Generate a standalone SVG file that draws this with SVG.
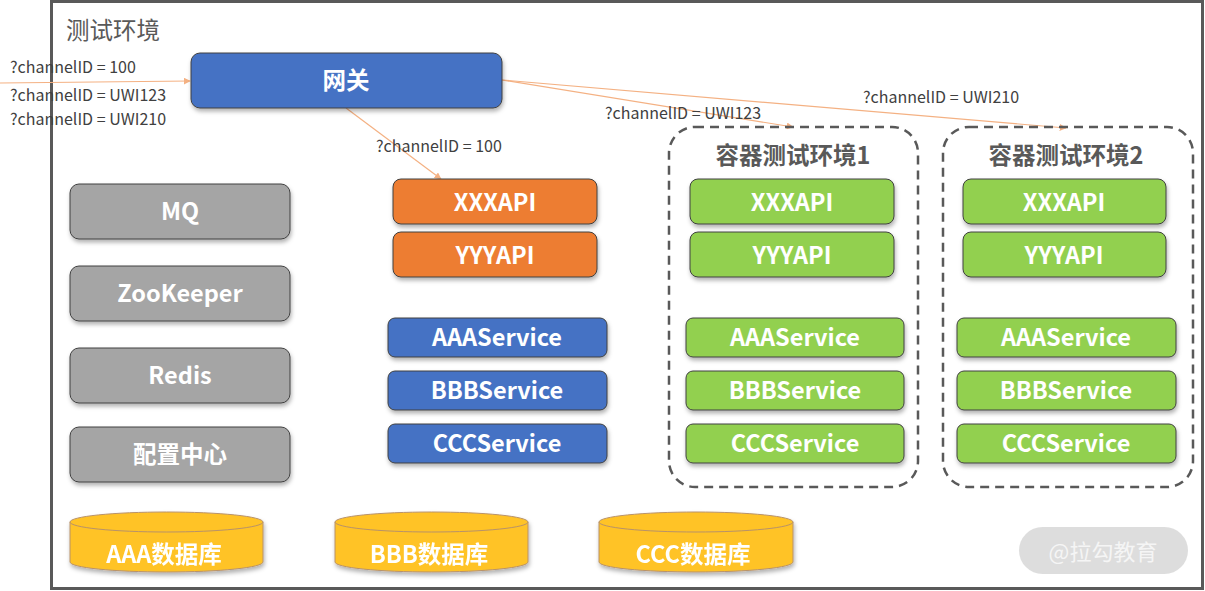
<svg xmlns="http://www.w3.org/2000/svg" width="1205" height="591" viewBox="0 0 1205 591">
<defs>
<filter id="sh" x="-10%" y="-20%" width="120%" height="150%">
<feDropShadow dx="1" dy="3" stdDeviation="2" flood-color="#000" flood-opacity="0.3"/>
</filter>
<marker id="ah" viewBox="0 0 10 10" refX="9" refY="5" markerWidth="7" markerHeight="7" orient="auto" markerUnits="userSpaceOnUse">
<path d="M0,0 L10,5 L0,10 z" fill="#F4B183"/>
</marker>
</defs>
<style>
.box{stroke:#404040;stroke-width:1;filter:url(#sh)}
.gray{fill:#A5A5A5}
.blue{fill:#4472C4}
.orange{fill:#ED7D31}
.green{fill:#92D050}
.bt{font-family:"Noto Sans CJK SC","Noto Sans",sans-serif;font-weight:bold;font-size:23.5px;fill:#fff;text-anchor:middle;dominant-baseline:central}
.lbl{font-family:"Noto Sans CJK SC","Noto Sans",sans-serif;font-size:16px;fill:#404040}
.ctitle{font-family:"Noto Sans CJK SC","Noto Sans",sans-serif;font-weight:bold;font-size:23.5px;fill:#595959;text-anchor:middle}
.cont{fill:none;stroke:#595959;stroke-width:2.5;stroke-dasharray:9,6}
.conn{stroke:#F4B183;stroke-width:1.2;fill:none;marker-end:url(#ah)}
.db{fill:#FFC325;stroke:#B8926A;stroke-width:1}
</style>
<rect x="0" y="0" width="1205" height="591" fill="#fff"/>
<rect x="51.5" y="1.5" width="1151" height="587" fill="#fff" stroke="#595959" stroke-width="3"/>
<text x="66" y="39" font-family="'Noto Sans CJK SC',sans-serif" font-size="23.5" fill="#595959">测试环境</text>

<g id="connectors">
<line class="conn" x1="0" y1="83" x2="190" y2="81"/>
<line class="conn" x1="346" y1="108" x2="441" y2="179"/>
<line class="conn" x1="502" y1="80" x2="793" y2="127"/>
<line class="conn" x1="502" y1="80" x2="1066" y2="128"/>
<text class="lbl" x="10" y="73">?channelID = 100</text>
<text class="lbl" x="10" y="101">?channelID = UWI123</text>
<text class="lbl" x="10" y="125">?channelID = UWI210</text>
<text class="lbl" x="376" y="152">?channelID = 100</text>
<text class="lbl" x="605" y="119">?channelID = UWI123</text>
<text class="lbl" x="863" y="103">?channelID = UWI210</text>
</g>

<g id="gateway"><rect class="box blue" x="191" y="53" width="311" height="55" rx="9"/><text class="bt" x="346" y="79">网关</text></g>

<g id="mq"><rect class="box gray" x="70" y="184" width="220" height="55" rx="9"/><text class="bt" x="180" y="210">MQ</text></g>
<g id="zookeeper"><rect class="box gray" x="70" y="266" width="220" height="55" rx="9"/><text class="bt" x="180" y="292">ZooKeeper</text></g>
<g id="redis"><rect class="box gray" x="70" y="348" width="220" height="55" rx="9"/><text class="bt" x="180" y="374">Redis</text></g>
<g id="config"><rect class="box gray" x="70" y="427" width="220" height="55" rx="9"/><text class="bt" x="180" y="453">配置中心</text></g>

<g id="xxxapi"><rect class="box orange" x="393" y="179" width="204" height="45" rx="8"/><text class="bt" x="495" y="201">XXXAPI</text></g>
<g id="yyyapi"><rect class="box orange" x="393" y="232" width="204" height="45" rx="8"/><text class="bt" x="495" y="254">YYYAPI</text></g>
<g id="aaaservice"><rect class="box blue" x="388" y="318" width="219" height="39" rx="7"/><text class="bt" x="497" y="336">AAAService</text></g>
<g id="bbbservice"><rect class="box blue" x="388" y="371" width="219" height="39" rx="7"/><text class="bt" x="497" y="389">BBBService</text></g>
<g id="cccservice"><rect class="box blue" x="388" y="424" width="219" height="39" rx="7"/><text class="bt" x="497" y="442">CCCService</text></g>

<g id="env1">
<rect class="cont" x="669" y="127" width="249" height="360" rx="26"/>
<text class="ctitle" x="793" y="164">容器测试环境1</text>
</g>
<g id="env1-xxxapi"><rect class="box green" x="690" y="179" width="204" height="45" rx="8"/><text class="bt" x="792" y="201">XXXAPI</text></g>
<g id="env1-yyyapi"><rect class="box green" x="690" y="232" width="204" height="45" rx="8"/><text class="bt" x="792" y="254">YYYAPI</text></g>
<g id="env1-aaa"><rect class="box green" x="686" y="318" width="218" height="39" rx="7"/><text class="bt" x="795" y="336">AAAService</text></g>
<g id="env1-bbb"><rect class="box green" x="686" y="371" width="218" height="39" rx="7"/><text class="bt" x="795" y="389">BBBService</text></g>
<g id="env1-ccc"><rect class="box green" x="686" y="424" width="218" height="39" rx="7"/><text class="bt" x="795" y="442">CCCService</text></g>

<g id="env2">
<rect class="cont" x="943" y="127" width="250" height="360" rx="26"/>
<text class="ctitle" x="1066" y="164">容器测试环境2</text>
</g>
<g id="env2-xxxapi"><rect class="box green" x="963" y="179" width="203" height="45" rx="8"/><text class="bt" x="1064" y="201">XXXAPI</text></g>
<g id="env2-yyyapi"><rect class="box green" x="963" y="232" width="203" height="45" rx="8"/><text class="bt" x="1064" y="254">YYYAPI</text></g>
<g id="env2-aaa"><rect class="box green" x="957" y="318" width="219" height="39" rx="7"/><text class="bt" x="1066" y="336">AAAService</text></g>
<g id="env2-bbb"><rect class="box green" x="957" y="371" width="219" height="39" rx="7"/><text class="bt" x="1066" y="389">BBBService</text></g>
<g id="env2-ccc"><rect class="box green" x="957" y="424" width="219" height="39" rx="7"/><text class="bt" x="1066" y="442">CCCService</text></g>

<g id="db-aaa" filter="url(#sh)">
<path class="db" d="M70,522 L70,562 A96.5,10 0 0 0 263,562 L263,522"/>
<ellipse class="db" cx="166.5" cy="522" rx="96.5" ry="10"/>
<text class="bt" x="164" y="553">AAA数据库</text>
</g>
<g id="db-bbb" filter="url(#sh)">
<path class="db" d="M335,522 L335,562 A96.5,10 0 0 0 528,562 L528,522"/>
<ellipse class="db" cx="431.5" cy="522" rx="96.5" ry="10"/>
<text class="bt" x="429" y="553">BBB数据库</text>
</g>
<g id="db-ccc" filter="url(#sh)">
<path class="db" d="M599,522 L599,562 A97,10 0 0 0 793,562 L793,522"/>
<ellipse class="db" cx="696" cy="522" rx="97" ry="10"/>
<text class="bt" x="693" y="553">CCC数据库</text>
</g>

<g id="watermark">
<rect x="1019" y="527" width="169" height="47" rx="23.5" fill="#D9D9D9" opacity="0.9"/>
<text x="1103" y="550" font-family="'Noto Sans CJK SC',sans-serif" font-size="22" fill="#F5F5F5" text-anchor="middle" dominant-baseline="central">@拉勾教育</text>
</g>
</svg>
